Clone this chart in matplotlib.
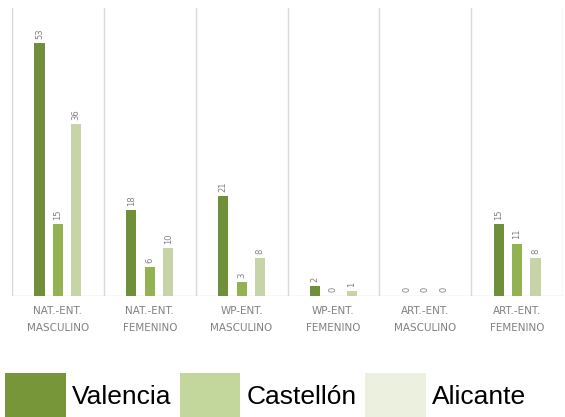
import matplotlib
matplotlib.use("Agg")
import matplotlib.pyplot as plt
from matplotlib.patches import Patch
import numpy as np

categories = ["NAT.-ENT.\nMASCULINO", "NAT.-ENT.\nFEMENINO", "WP-ENT.\nMASCULINO",
              "WP-ENT.\nFEMENINO", "ART.-ENT.\nMASCULINO", "ART.-ENT.\nFEMENINO"]
series_names = ["Valencia", "Castellón", "Alicante"]
valencia = [53, 18, 21, 2, 0, 15]
castellon = [15, 6, 3, 0, 0, 11]
alicante = [36, 10, 8, 1, 0, 8]

bar_colors = ["#6f8f3a", "#93b352", "#c6d4a8"]
legend_colors = ["#769639", "#c3d69b", "#ebf1de"]

fig = plt.figure(figsize=(5.65, 4.17), dpi=100)
ax = fig.add_axes([12/565, (417-296)/417, (563-12)/565, (296-8)/417])

x = np.arange(len(categories))
offsets = [-0.2, 0.0, 0.2]
width = 0.11
for vals, off, col in zip([valencia, castellon, alicante], offsets, bar_colors):
    bars = ax.bar(x + off, vals, width=width, color=col, zorder=3)
    for b, v in zip(bars, vals):
        ax.annotate(str(v), (b.get_x() + b.get_width()/2, b.get_height()),
                    xytext=(0, 3), textcoords="offset points", rotation=90,
                    ha="center", va="bottom", fontsize=6, color="#808080")

ax.set_xlim(-0.5, len(categories) - 0.5)
ax.set_ylim(0, 60.4)
for b in np.arange(-0.5, len(categories), 1.0):
    ax.axvline(b, color="#d9d9d9", lw=1, zorder=1)
for s in ax.spines.values():
    s.set_visible(False)
ax.axhline(0, color="#d9d9d9", lw=1, zorder=2)
ax.set_yticks([])
ax.set_xticks(x)
ax.set_xticklabels(categories, fontsize=7.5, color="#808080", linespacing=1.9)
ax.tick_params(axis="x", length=0, pad=7)

handles = [Patch(facecolor=c, edgecolor="none") for c in legend_colors]
fig.legend(handles, series_names, loc="lower left", bbox_to_anchor=(5/565, -0.002),
           ncol=3, frameon=False, handlelength=2.3, handleheight=2.25,
           handletextpad=0.25, columnspacing=0.3, borderaxespad=0, borderpad=0,
           prop={"family": "Liberation Sans", "size": 19})

fig.savefig("out.png", dpi=100)
